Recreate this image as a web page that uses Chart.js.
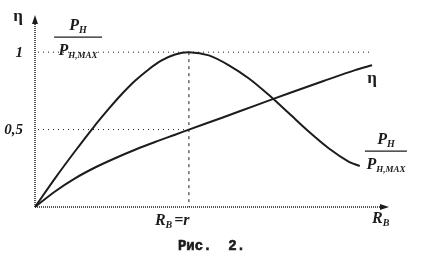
<!DOCTYPE html>
<html>
<head>
<meta charset="utf-8">
<script src="https://cdn.jsdelivr.net/npm/chart.js@4"></script>
<style>
  html, body { margin: 0; padding: 0; background: #fff; }
  #wrap { width: 429px; height: 280px; }
</style>
</head>
<body>
<div id="wrap"><canvas id="chart" width="429" height="280"></canvas></div>
<script>
// R_B / r on x, relative value on y
const powerX = [0, 0.13, 0.26, 0.38, 0.48, 0.56, 0.65, 0.74, 0.82, 0.91, 1.0, 1.13, 1.26, 1.39, 1.52, 1.65, 1.78, 1.91, 2.04, 2.11];
const powerY = [0, 0.185, 0.36, 0.515, 0.635, 0.725, 0.815, 0.89, 0.945, 0.985, 1.0, 0.979, 0.915, 0.83, 0.723, 0.605, 0.486, 0.378, 0.292, 0.265];
const etaX = [0, 0.13, 0.26, 0.39, 0.52, 0.65, 0.78, 0.91, 1.0, 1.22, 1.43, 1.65, 1.87, 2.08, 2.19];
const etaY = [0, 0.1, 0.185, 0.255, 0.315, 0.37, 0.42, 0.467, 0.5, 0.578, 0.655, 0.735, 0.812, 0.884, 0.915];

const yTickValues = [0.5, 1];
const yTickLabels = ['0,5', '1'];
const xMarkValue = 1;        // R_B = r
const xMax = 2.3;
const yMax = 1.24;

const ink = '#1c1c1c';
const serif = "'Liberation Serif', 'DejaVu Serif', serif";

const toPoints = (xs, ys) => xs.map((x, i) => ({ x: x, y: ys[i] }));

// text with a subscript, returns end x
function subText(ctx, x, y, main, sub, size, subSize) {
  ctx.font = `italic bold ${size}px ${serif}`;
  ctx.fillText(main, x, y);
  let w = ctx.measureText(main).width;
  ctx.font = `italic bold ${subSize}px ${serif}`;
  ctx.fillText(sub, x + w, y + 3);
  return x + w + ctx.measureText(sub).width;
}

function subWidth(ctx, main, sub, size, subSize) {
  ctx.font = `italic bold ${size}px ${serif}`;
  let w = ctx.measureText(main).width;
  ctx.font = `italic bold ${subSize}px ${serif}`;
  return w + ctx.measureText(sub).width;
}

function fraction(ctx, cx, ly, half) {
  ctx.textAlign = 'left';
  ctx.textBaseline = 'alphabetic';
  let w1 = subWidth(ctx, 'P', 'Н', 16, 10);
  subText(ctx, cx - w1 / 2, ly - 7, 'P', 'Н', 16, 10);
  let w2 = subWidth(ctx, 'P', 'Н,МАХ', 16, 9);
  subText(ctx, cx - w2 / 2, ly + 18, 'P', 'Н,МАХ', 16, 9);
  ctx.lineWidth = 1.2;
  ctx.setLineDash([]);
  ctx.beginPath();
  ctx.moveTo(cx - half, ly);
  ctx.lineTo(cx + half, ly);
  ctx.stroke();
}

const decorPlugin = {
  id: 'decor',
  beforeDatasetsDraw(chart) {
    const ctx = chart.ctx;
    const xs = chart.scales.x, ys = chart.scales.y;
    const x0 = xs.getPixelForValue(0), y0 = ys.getPixelForValue(0);
    const xEnd = xs.getPixelForValue(xMax), yEnd = ys.getPixelForValue(yMax);
    ctx.save();
    ctx.strokeStyle = ink;
    ctx.fillStyle = ink;

    // helper lines
    ctx.lineWidth = 1;
    ctx.setLineDash([1, 4]);
    ctx.beginPath();
    ctx.moveTo(x0 + 3, ys.getPixelForValue(1));
    ctx.lineTo(xs.getPixelForValue(etaX[etaX.length - 1]), ys.getPixelForValue(1));
    ctx.moveTo(x0 + 3, ys.getPixelForValue(0.5));
    ctx.lineTo(xs.getPixelForValue(xMarkValue), ys.getPixelForValue(0.5));
    ctx.stroke();
    ctx.setLineDash([3, 4]);
    ctx.beginPath();
    ctx.moveTo(xs.getPixelForValue(xMarkValue), ys.getPixelForValue(1));
    ctx.lineTo(xs.getPixelForValue(xMarkValue), y0);
    ctx.stroke();

    // axes
    ctx.lineWidth = 1.5;
    ctx.setLineDash([1, 1]);
    ctx.beginPath();
    ctx.moveTo(x0, y0);
    ctx.lineTo(x0, yEnd + 6);
    ctx.moveTo(x0, y0);
    ctx.lineTo(xEnd - 6, y0);
    ctx.stroke();
    ctx.setLineDash([]);
    ctx.beginPath();
    ctx.moveTo(x0, yEnd);
    ctx.lineTo(x0 - 3, yEnd + 9);
    ctx.lineTo(x0 + 3, yEnd + 9);
    ctx.closePath();
    ctx.moveTo(xEnd, y0);
    ctx.lineTo(xEnd - 9, y0 - 3);
    ctx.lineTo(xEnd - 9, y0 + 3);
    ctx.closePath();
    ctx.fill();
    ctx.restore();
  },
  afterDatasetsDraw(chart) {
    const ctx = chart.ctx;
    const xs = chart.scales.x, ys = chart.scales.y;
    const x0 = xs.getPixelForValue(0), y0 = ys.getPixelForValue(0);
    const xEnd = xs.getPixelForValue(xMax), yEnd = ys.getPixelForValue(yMax);
    ctx.save();
    ctx.fillStyle = ink;
    ctx.strokeStyle = ink;

    // y tick labels
    ctx.font = `italic bold 15px ${serif}`;
    ctx.textAlign = 'right';
    ctx.textBaseline = 'middle';
    yTickValues.forEach((v, i) => {
      ctx.fillText(yTickLabels[i], x0 - 12, ys.getPixelForValue(v) + 1);
    });

    // eta labels
    ctx.font = `bold 17px ${serif}`;
    ctx.textAlign = 'center';
    ctx.fillText('η', x0 - 17, yEnd + 2);
    const ex = xs.getPixelForValue(etaX[etaX.length - 1]);
    const ey = ys.getPixelForValue(etaY[etaY.length - 1]);
    ctx.fillText('η', ex, ey + 13);

    // P / Pmax labels
    fraction(ctx, xs.getPixelForValue(0.28), ys.getPixelForValue(1.097), 24);
    fraction(ctx, xs.getPixelForValue(2.28), ys.getPixelForValue(0.361), 21);

    // x labels
    ctx.textBaseline = 'alphabetic';
    ctx.textAlign = 'left';
    let endX = subText(ctx, xs.getPixelForValue(xMarkValue) - 34, y0 + 18, 'R', 'В', 16, 10);
    ctx.font = `italic bold 16px ${serif}`;
    ctx.fillText(' =r', endX - 2, y0 + 18);
    subText(ctx, xEnd - 17, y0 + 16, 'R', 'В', 16, 10);

    // caption, a bit heavier than plain bold
    ctx.font = "bold 14px 'Liberation Mono', monospace";
    ctx.textAlign = 'center';
    ctx.lineWidth = 0.6;
    const capX = xs.getPixelForValue(1.147);
    ctx.fillText('Рис.  2.', capX, y0 + 43);
    ctx.strokeText('Рис.  2.', capX, y0 + 43);
    ctx.restore();
  }
};

new Chart(document.getElementById('chart'), {
  type: 'scatter',
  data: {
    datasets: [
      {
        label: 'P/Pmax',
        data: toPoints(powerX, powerY),
        showLine: true,
        borderColor: ink,
        borderWidth: 2,
        pointRadius: 0,
        tension: 0.3,
        clip: false,
      },
      {
        label: 'eta',
        data: toPoints(etaX, etaY),
        showLine: true,
        borderColor: ink,
        borderWidth: 2,
        pointRadius: 0,
        tension: 0.3,
        clip: false,
      },
    ],
  },
  options: {
    responsive: false,
    animation: false,
    layout: { padding: { left: 35, top: 15, right: 40, bottom: 73 } },
    scales: {
      x: { type: 'linear', min: 0, max: xMax, display: false },
      y: { type: 'linear', min: 0, max: yMax, display: false },
    },
    plugins: {
      legend: { display: false },
      tooltip: { enabled: false },
    },
  },
  plugins: [decorPlugin],
});
</script>
</body>
</html>
